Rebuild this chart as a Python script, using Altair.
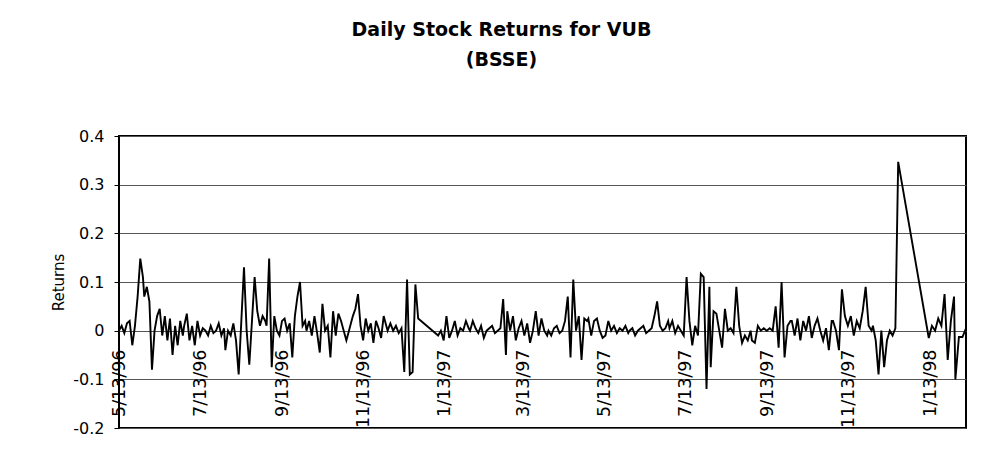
import altair as alt
import pandas as pd

# ---- data (daily returns, grouped by month) ----
may96 = [0.0, 0.01, -0.005, 0.015, 0.02, -0.03, 0.01, 0.07, 0.148, 0.11]
jun96 = [0.07, 0.09, 0.06, -0.08, 0.0, 0.03, 0.045, -0.01, 0.03, -0.02, 0.025, -0.05, 0.01, -0.03, 0.02, -0.01]
jul96 = [0.01, 0.035, -0.02, 0.01, -0.03, 0.02, -0.01, 0.005, 0.0, -0.01, 0.01, -0.005, 0.0, 0.015, -0.01, 0.005]
aug96 = [-0.04, 0.0, -0.01, 0.015, -0.02, -0.09, 0.02, 0.13, 0.0, -0.07, 0.02, 0.11, 0.04, 0.01, 0.03, 0.02]
sep96 = [0.01, 0.148, -0.075, 0.03, 0.0, -0.01, 0.02, 0.025, 0.0, 0.015, -0.055, 0.03, 0.07, 0.10, 0.01, 0.02]
oct96 = [0.0, 0.02, -0.01, 0.03, -0.005, -0.045, 0.055, 0.0, 0.01, -0.055, 0.04, -0.01, 0.035, 0.02, 0.0, -0.02]
nov96 = [-0.01, 0.01, 0.03, 0.045, 0.075, 0.01, -0.02, 0.025, 0.0, 0.015, -0.025, 0.02, 0.005, -0.015, 0.03, 0.01]
dec96 = [0.0, 0.015, 0.0, 0.01, -0.005, 0.005, -0.085, 0.105, -0.09, -0.085, 0.095, 0.025]
jan97 = [-0.01, 0.0, -0.02, 0.03, -0.015, 0.0, 0.02, -0.01, 0.005, 0.0, 0.02, 0.005]
feb97 = [0.0, 0.02, 0.005, -0.005, 0.01, -0.015, 0.0, 0.005, 0.01, -0.005, 0.0, 0.005, 0.065, -0.05]
mar97 = [0.04, 0.0, 0.03, -0.02, 0.005, 0.02, -0.01, 0.015, -0.025, 0.0, 0.04, -0.01, 0.025, 0.0, -0.01]
apr97 = [0.0, -0.01, 0.005, 0.01, -0.005, 0.0, 0.02, 0.07, -0.055, 0.105, 0.0, 0.03, -0.06, 0.025, 0.02]
may97 = [0.025, -0.01, 0.02, 0.025, 0.0, -0.015, -0.01, 0.02, 0.0, 0.01, -0.005, 0.005, 0.0, 0.01, -0.005]
jun97 = [0.0, 0.005, -0.01, 0.0, 0.005, 0.01, -0.005, 0.0, 0.005, 0.03, 0.06, 0.01, 0.0, 0.005, 0.02]
jul97 = [0.005, 0.02, -0.005, 0.01, 0.0, -0.01, 0.11, 0.02, -0.03, 0.01, -0.01, 0.117, 0.11, -0.12, 0.09]
aug97 = [-0.075, 0.04, 0.035, 0.0, -0.035, 0.045, 0.0, 0.005, -0.005, 0.09, 0.01, -0.025, -0.01, -0.02, 0.0]
sep97 = [-0.02, -0.025, 0.01, 0.0, 0.005, 0.0, 0.005, 0.0, 0.05, -0.035, 0.10, -0.055, 0.01, 0.02]
oct97 = [0.02, -0.01, 0.025, -0.02, 0.02, 0.0, 0.03, -0.015, 0.01, 0.025, 0.0, -0.02, 0.005, -0.04, 0.02]
nov97 = [0.02, 0.0, -0.04, 0.085, 0.03, 0.01, 0.03, -0.01, 0.02, 0.005, 0.04, 0.09, 0.01, 0.0]
dec97 = [0.01, -0.02, -0.09, 0.0, -0.075, -0.02, 0.0, -0.01, 0.005, 0.347]
jan98 = [-0.015, 0.01, 0.0, 0.025, 0.01, 0.075, -0.06, 0.02, 0.07]
feb98 = [-0.1, -0.013, -0.013, 0.005]

segments = [
    ("1996-05-13", "1996-05-31", may96),
    ("1996-06-01", "1996-06-30", jun96),
    ("1996-07-01", "1996-07-31", jul96),
    ("1996-08-01", "1996-08-31", aug96),
    ("1996-09-01", "1996-09-30", sep96),
    ("1996-10-01", "1996-10-31", oct96),
    ("1996-11-01", "1996-11-30", nov96),
    ("1996-12-01", "1996-12-24", dec96),
    ("1997-01-08", "1997-01-31", jan97),
    ("1997-02-01", "1997-02-28", feb97),
    ("1997-03-01", "1997-03-31", mar97),
    ("1997-04-01", "1997-04-30", apr97),
    ("1997-05-01", "1997-05-31", may97),
    ("1997-06-01", "1997-06-30", jun97),
    ("1997-07-01", "1997-07-31", jul97),
    ("1997-08-01", "1997-08-31", aug97),
    ("1997-09-01", "1997-09-30", sep97),
    ("1997-10-01", "1997-10-31", oct97),
    ("1997-11-01", "1997-11-30", nov97),
    ("1997-12-01", "1997-12-20", dec97),
    ("1998-01-12", "1998-01-31", jan98),
    ("1998-02-01", "1998-02-09", feb98),
]

tick_dates = ["1996-05-13", "1996-07-13", "1996-09-13", "1996-11-13", "1997-01-13",
              "1997-03-13", "1997-05-13", "1997-07-13", "1997-09-13", "1997-11-13",
              "1998-01-13"]
x_range = ["1996-05-13", "1998-02-09"]
y_ticks = [-0.2, -0.1, 0.0, 0.1, 0.2, 0.3, 0.4]

# ---- build table ----
rows = []
for start, end, vals in segments:
    ds = pd.date_range(start, end, periods=len(vals))
    rows += list(zip(ds, vals))
df = pd.DataFrame(rows, columns=["date", "ret"])


def dt(s):
    t = pd.Timestamp(s)
    return alt.DateTime(year=t.year, month=t.month, date=t.day)


FONT = "DejaVu Sans"

chart = alt.Chart(df).mark_line(color="black", strokeWidth=1.9).encode(
    x=alt.X(
        "date:T",
        scale=alt.Scale(domain=[dt(x_range[0]), dt(x_range[1])], nice=False),
        axis=alt.Axis(
            values=[dt(t) for t in tick_dates],
            format="%-m/%-d/%y",
            labelAngle=-90,
            offset=-97,
            domain=False,
            ticks=False,
            grid=False,
            title=None,
            labelFlush=False,
            labelOverlap=False,
            labelBound=False,
            labelPadding=18,
            labelFont=FONT,
            labelFontSize=17.5,
            labelColor="black",
        ),
    ),
    y=alt.Y(
        "ret:Q",
        scale=alt.Scale(domain=[-0.2, 0.4], nice=False, zero=False),
        axis=alt.Axis(
            values=y_ticks,
            labelExpr="datum.value == 0 ? '0' : (datum.value < 0 ? '-' : '') + format(abs(datum.value), '.1f')",
            title="Returns",
            titleFont=FONT,
            titleFontSize=15,
            titleFontWeight="normal",
            titleColor="black",
            titlePadding=6,
            labelFont=FONT,
            labelFontSize=16,
            labelColor="black",
            labelPadding=10,
            domain=False,
            tickColor="black",
            tickSize=5,
            grid=True,
            gridColor="#555555",
            gridWidth=1,
        ),
    ),
).properties(
    width=847,
    height=292,
    autosize="none",
    padding={"left": 111, "top": 128, "right": 21, "bottom": 32},
    title=alt.TitleParams(
        ["Daily Stock Returns for VUB", "(BSSE)"],
        font=FONT,
        fontSize=19,
        fontWeight="bold",
        color="black",
        anchor="middle",
        frame="group",
        dx=-41,
        offset=58,
        lineHeight=30,
    ),
).configure_view(stroke="black", strokeWidth=2)

chart.save("out.html", embed_options={"renderer": "svg", "actions": False})
